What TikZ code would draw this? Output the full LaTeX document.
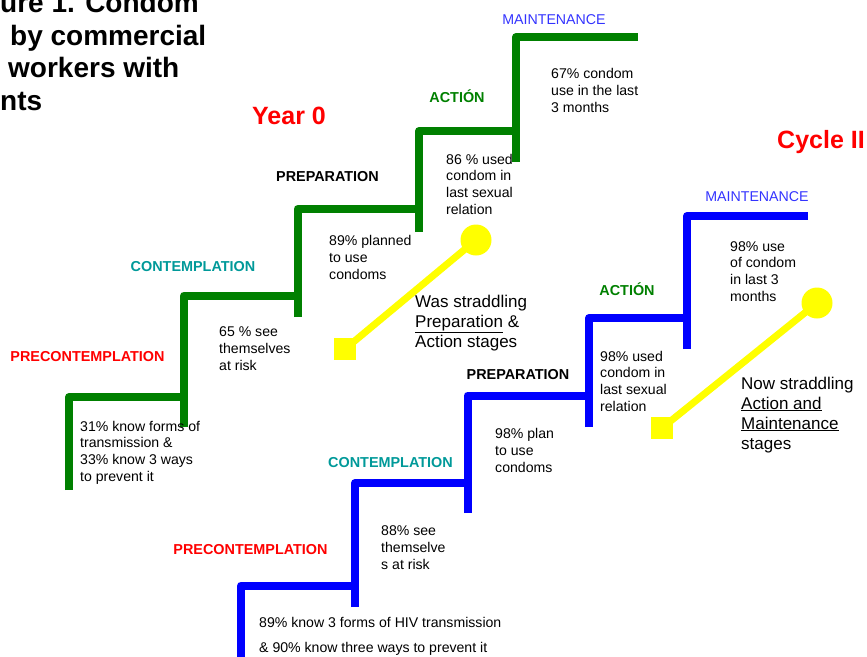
\documentclass[tikz,border=0pt]{standalone}
\usepackage{fontspec}
\setmainfont{Liberation Sans}
\usepackage{color}
\definecolor{verde}{RGB}{0,128,0}
\definecolor{azul}{RGB}{0,0,255}
\definecolor{azulclaro}{RGB}{51,51,255}
\definecolor{turquesa}{RGB}{0,153,153}
\definecolor{rojo}{RGB}{255,0,0}
\definecolor{amarillo}{RGB}{255,255,0}
\tikzstyle{escalonverde} = [line width=8pt, draw=verde, line join=round]
\tikzstyle{escalonazul} = [line width=8pt, draw=azul, line join=round]
\tikzstyle{titulo} = [font=\bfseries\fontsize{28}{32}\selectfont, inner sep=0pt, anchor=base west]
\tikzstyle{ciclo} = [font=\bfseries\fontsize{25}{30}\selectfont, text=rojo, inner sep=0pt, anchor=base]
\tikzstyle{etapa} = [font=\bfseries\fontsize{14.4}{16}\selectfont, inner sep=0pt, anchor=base]
\tikzstyle{mant} = [font=\fontsize{14.2}{16}\selectfont, text=azulclaro, inner sep=0pt, anchor=base]
\tikzstyle{dato} = [font=\fontsize{14.1}{16.6}\selectfont, align=left, inner sep=0pt, anchor=base west]
\tikzstyle{nota} = [font=\fontsize{17}{20}\selectfont, align=left, inner sep=0pt, anchor=base west]
\tikzstyle{circulo} = [circle, fill=amarillo, minimum size=31pt, inner sep=0pt]
\tikzstyle{cuadro} = [rectangle, fill=amarillo, minimum size=22pt, inner sep=0pt]
\tikzstyle{conector} = [draw=amarillo, line width=7pt]

\begin{document}
\begin{tikzpicture}[x=1pt, y=-1pt]
    \useasboundingbox (0,0) rectangle (867,656);
    % Titulo
    \node (tit1) [titulo] at (0,12) {ure 1. Condom};
    \node (tit2) [titulo] at (10,45) {by commercial};
    \node (tit3) [titulo] at (8,77) {workers with};
    \node (tit4) [titulo] at (0,110) {nts};
    \node (anio) [ciclo] at (289,124) {Year 0};
    \node (ciclo) [ciclo] at (821,148) {Cycle II};

    % Escalera verde
    \draw[escalonverde] (69,490) -- (69,397) -- (184,397);
    \draw[escalonverde] (184,427) -- (184,295.5) -- (297.5,295.5);
    \draw[escalonverde] (297.5,317) -- (297.5,209) -- (419,209);
    \draw[escalonverde] (419,232) -- (419,131) -- (516,131);
    \draw[escalonverde] (516,162) -- (516,37) -- (638,37);

    % Escalera azul
    \draw[escalonazul] (241,660) -- (241,585.5) -- (355,585.5);
    \draw[escalonazul] (355,607) -- (355,483) -- (467.5,483);
    \draw[escalonazul] (467.5,513) -- (467.5,395.5) -- (589,395.5);
    \draw[escalonazul] (589,427) -- (589,318) -- (687,318);
    \draw[escalonazul] (687,349) -- (687,216) -- (808,216);

    % Etapas (verde)
    \node (gprecont) [etapa, text=rojo] at (87.5,361) {PRECONTEMPLATION};
    \node (gcontempl) [etapa, text=turquesa] at (193,271) {CONTEMPLATION};
    \node (gprep) [etapa] at (327.5,181) {PREPARATION};
    \node (gaccion) [etapa, text=verde] at (457,102) {ACTIÓN};
    \node (gmant) [mant] at (554,24) {MAINTENANCE};

    % Etapas (azul)
    \node (bprecont) [etapa, text=rojo] at (250.5,554) {PRECONTEMPLATION};
    \node (bcontempl) [etapa, text=turquesa] at (390.5,467) {CONTEMPLATION};
    \node (bprep) [etapa] at (518,379) {PREPARATION};
    \node (baccion) [etapa, text=verde] at (627,295) {ACTIÓN};
    \node (bmant) [mant] at (757,201) {MAINTENANCE};

    % Datos año 0 (la base es la de la ultima linea)
    \node (g31) [dato] at (80,481) {31\% know forms of\\transmission \&\\33\% know 3 ways\\to prevent it};
    \node (g65) [dato] at (219,370) {65 \% see\\themselves\\at risk};
    \node (g89) [dato] at (329,279) {89\% planned\\to use\\condoms};
    \node (g86) [dato] at (446,214) {86 \% used\\condom in\\last sexual\\relation};
    \node (g67) [dato] at (551,112) {67\% condom\\use in the last\\3 months};

    % Datos ciclo II
    \node (b89) [dato, font=\fontsize{14.1}{25}\selectfont] at (259,652) {89\% know 3 forms of HIV transmission\\\& 90\% know three ways to prevent it};
    \node (b88) [dato] at (381,569) {88\% see\\themselve\\s at risk};
    \node (b98p) [dato] at (495,472) {98\% plan\\to use\\condoms};
    \node (b98u) [dato] at (600,411) {98\% used\\condom in\\last sexual\\relation};
    \node (b98m) [dato] at (730,301) {98\% use\\of condom\\in last 3\\months};

    % Marcadores amarillos
    \node (gcirc) [circulo] at (476,240) {};
    \node (gcuad) [cuadro] at (345,349) {};
    \draw[conector] (gcirc.center) -- (gcuad.center);
    \node (gnota) [nota] at (415,347) {Was straddling\\\underline{Preparation} \&\\Action stages};

    \node (bcirc) [circulo] at (817,303) {};
    \node (bcuad) [cuadro] at (662,428) {};
    \draw[conector] (bcirc.center) -- (bcuad.center);
    \node (bnota) [nota] at (741,449) {Now straddling\\\underline{Action and}\\\underline{Maintenance}\\stages};
\end{tikzpicture}
\end{document}
